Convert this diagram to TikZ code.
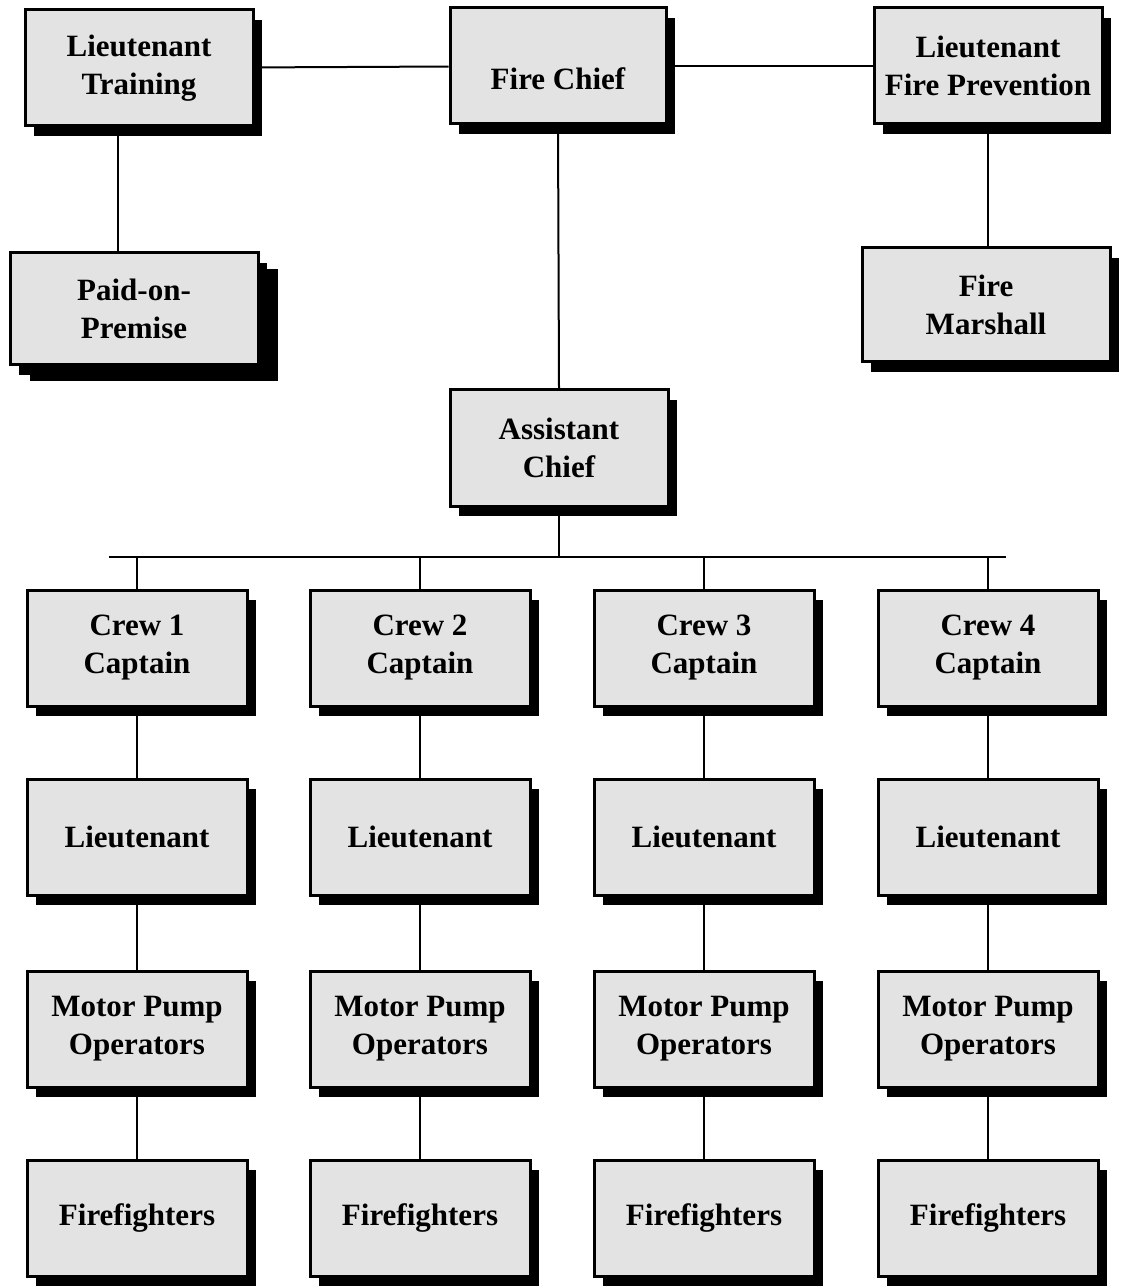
\documentclass[tikz,border=0pt]{standalone}
\usepackage{fontspec}
\setmainfont{Liberation Serif}
\usetikzlibrary{shadows}

\begin{document}
\begin{tikzpicture}[x=0.5pt, y=-0.5pt]
		\tikzstyle {post} = [draw, line width=1.5pt, fill=gray!22, align=center, inner sep=2pt,
			font=\bfseries\fontsize{15.5}{19}\selectfont, minimum width=110pt, minimum height=58pt,
			drop shadow={shadow xshift=4.5pt, shadow yshift=-5pt, fill=black, opacity=1}]
		\tikzstyle {link} = [line width=1pt]

		\useasboundingbox (0,0) rectangle (1120,1288);

		% top row
		\node[post, minimum width=114pt] (train) at (139,68) {Lieutenant\\Training};
		\node[post, minimum width=108pt, text height=24pt, text depth=0pt] (chief) at (558,66) {Fire Chief};
		\node[post, minimum width=114pt] (prev) at (988,66) {Lieutenant\\Fire Prevention};

		\node[post, minimum width=124pt, minimum height=56pt,
			drop shadow={shadow xshift=10pt, shadow yshift=-8pt, fill=black, opacity=1}] (paid) at (134,309) {Paid-on-\\Premise};
		\node[post, minimum width=124pt, minimum height=57pt] (marsh) at (986,305) {Fire\\Marshall};
		\node[post, minimum width=109pt] (asst) at (559,448) {Assistant\\Chief};

		\draw[link] (train) -- (chief);
		\draw[link] (chief) -- (prev);
		\draw[link] ([xshift=-10.5pt]train.south) -- ([xshift=-10.5pt]train.south |- paid.north);
		\draw[link] (prev.south) -- (prev.south |- marsh.north);
		\draw[link] (chief.south) -- (asst.north);

		% crews
		\foreach \i/\x in {1/137, 2/420, 3/704, 4/988} {
			\node[post] (cap\i) at (\x,648) {Crew \i\\Captain};
			\node[post] (lt\i) at (\x,837) {Lieutenant};
			\node[post] (pump\i) at (\x,1029) {Motor Pump\\Operators};
			\node[post] (ff\i) at (\x,1218) {Firefighters};
			\draw[link] (cap\i) -- (lt\i);
			\draw[link] (lt\i) -- (pump\i);
			\draw[link] (pump\i) -- (ff\i);
		}

		\coordinate (bus) at (559,557);
		\draw[link] (asst.south) -- (bus);
		\draw[link] ([xshift=-14pt]cap1.north |- bus) -- ([xshift=9pt]cap4.north |- bus);
		\foreach \i in {1,...,4}
			\draw[link] (cap\i.north |- bus) -- (cap\i.north);

\end{tikzpicture}
\end{document}
